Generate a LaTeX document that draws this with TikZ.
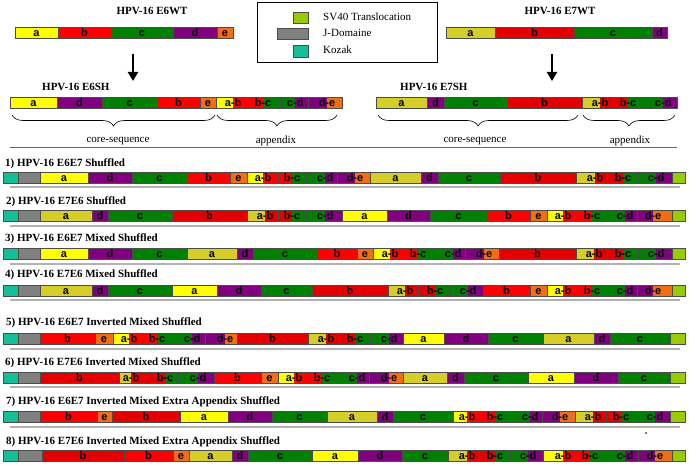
\documentclass[tikz,border=0pt]{standalone}
\usepackage{fontspec}
\setmainfont{Liberation Serif}
\newfontfamily\lsans{Liberation Sans}
\usetikzlibrary{arrows.meta,decorations.pathreplacing}
\definecolor{cY}{RGB}{255,255,0}
\definecolor{cH}{RGB}{214,206,40}
\definecolor{cR}{RGB}{255,0,0}
\definecolor{cRd}{RGB}{228,0,0}
\definecolor{cG}{RGB}{0,128,0}
\definecolor{cP}{RGB}{128,0,128}
\definecolor{cO}{RGB}{240,110,20}
\definecolor{cGy}{RGB}{128,128,128}
\definecolor{cT}{RGB}{20,190,150}
\definecolor{cLG}{RGB}{153,204,0}
\newcounter{nc}
\newcommand\RT{0}
\newcommand\RB{0}
\newcommand\setrow[2]{\renewcommand\RT{#1}\renewcommand\RB{#2}}
\newcommand\sg[4]{%
  \filldraw[blk,fill=#3] (#1,\RT) rectangle (#2,\RB);
  \stepcounter{nc}\node[lbl] (n\arabic{nc}) at ({(#1+#2)/2},\RB-1.4) {#4};}
\newcommand\bx[3]{\filldraw[blk,fill=#3] (#1,\RT) rectangle (#2,\RB);}
\newcommand\jn[6]{%
  \fill[#4] (#1,\RT) rectangle (#2,\RB);
  \fill[#5] (#2,\RT) rectangle (#3,\RB);
  \draw[blk] (#1,\RT) rectangle (#3,\RB);
  \stepcounter{nc}\node[lbl] (n\arabic{nc}) at (#2,\RB-1.4) {#6};}
\tikzset{
  blk/.style={draw=black!70, line width=0.5pt},
  lbl/.style={font=\lsans\bfseries\fontsize{11}{11}\selectfont, inner sep=0pt, anchor=base, text=black},
  ttl/.style={font=\bfseries\fontsize{11}{11}\selectfont, inner sep=0pt},
  rowttl/.style={font=\bfseries\fontsize{11}{11}\selectfont, inner sep=0pt, anchor=west},
  txt/.style={font=\fontsize{11}{11}\selectfont, inner sep=0pt},
  rule/.style={draw=black!30, line width=1.6pt},
  brc/.style={decorate, decoration={brace, amplitude=11pt, mirror}, line width=0.6pt},
  bigarrow/.style={-{Triangle[width=10pt,length=9pt]}, line width=2.8pt}
}
\begin{document}
\begin{tikzpicture}[x=1pt,y=-1pt]
\useasboundingbox (0,0) rectangle (689,465);
% ---- top titles
\node[ttl] (t6wt) at (152,11) {HPV-16 E6WT};
\node[ttl] (t7wt) at (560,11) {HPV-16 E7WT};
\node[ttl,anchor=west] (t6sh) at (42,87) {HPV-16 E6SH};
\node[ttl,anchor=west] (t7sh) at (400,87) {HPV-16 E7SH};
% ---- wild types
\setrow{27}{38}
\sg{15}{58}{cY}{a}\sg{58}{111}{cR}{b}\sg{111}{173}{cG}{c}\sg{173}{217}{cP}{d}\sg{217}{233}{cO}{e}
\sg{446}{495}{cH}{a}\sg{495}{574}{cRd}{b}\sg{574}{652}{cG}{c}\sg{652}{667}{cP}{d}
% ---- arrows
\coordinate (a6s) at (133,54); \coordinate (a6e) at (133,81);
\coordinate (a7s) at (552,54); \coordinate (a7e) at (552,81);
\draw[bigarrow] (a6s) -- (a6e);
\draw[bigarrow] (a7s) -- (a7e);
% ---- shuffled
\setrow{97}{108}
\sg{10}{57}{cY}{a}\sg{57}{102}{cP}{d}\sg{102}{157}{cG}{c}\sg{157}{200}{cR}{b}\sg{200}{216}{cO}{e}
\jn{216}{233}{245}{cY}{cR}{a-b}\jn{245}{263}{280}{cR}{cG}{b-c}\jn{280}{295}{308}{cG}{cP}{c-d}\jn{308}{327}{342}{cP}{cO}{d-e}
\sg{376}{427}{cH}{a}\sg{427}{444}{cP}{d}\sg{444}{507}{cG}{c}\sg{507}{582}{cRd}{b}
\jn{582}{600}{613}{cH}{cRd}{a-b}\jn{613}{628}{645}{cRd}{cG}{b-c}\jn{645}{663}{677}{cG}{cP}{c-d}
% ---- braces
\coordinate (b1s) at (12,115); \coordinate (b1e) at (215,115);
\coordinate (b2s) at (217,115); \coordinate (b2e) at (337,115);
\coordinate (b3s) at (378,115); \coordinate (b3e) at (578,115);
\coordinate (b4s) at (583,115); \coordinate (b4e) at (675,115);
\draw[brc] (b1s) -- (b1e);
\draw[brc] (b2s) -- (b2e);
\draw[brc] (b3s) -- (b3e);
\draw[brc] (b4s) -- (b4e);
\node[txt] (cs1) at (118,141) {core-sequence};
\node[txt] (ap1) at (276,141) {appendix};
\node[txt] (cs2) at (475,141) {core-sequence};
\node[txt] (ap2) at (630,141) {appendix};
% ---- legend
\draw[line width=1pt] (257,3) rectangle (437,63);
\filldraw[blk,fill=cLG] (293,12) rectangle (308,23);
\filldraw[blk,fill=cGy] (277,28) rectangle (308,39);
\filldraw[blk,fill=cT] (293,45) rectangle (308,57);
\node[txt,anchor=west] (l1) at (323,17) {SV40 Translocation};
\node[txt,anchor=west] (l2) at (323,33) {J-Domaine};
\node[txt,anchor=west] (l3) at (323,50) {Kozak};
% ---- rules
\draw[draw=black!60, line width=1pt] (10,148) -- (677,148);
\foreach \yy in {187,226,264,300,349,387,427} \draw[rule] (10,\yy) -- (680,\yy);
% ---- row titles
\node[rowttl] (r1) at (5,164) {1) HPV-16 E6E7 Shuffled};
\node[rowttl] (r2) at (6,202) {2) HPV-16 E7E6 Shuffled};
\node[rowttl] (r3) at (5,239) {3) HPV-16 E6E7 Mixed Shuffled};
\node[rowttl] (r4) at (5,275) {4) HPV-16 E7E6 Mixed Shuffled};
\node[rowttl] (r5) at (6,323) {5) HPV-16 E6E7 Inverted Mixed Shuffled};
\node[rowttl] (r6) at (5,363) {6) HPV-16 E7E6 Inverted Mixed Shuffled};
\node[rowttl] (r7) at (6,402) {7) HPV-16 E6E7 Inverted Mixed Extra Appendix Shuffled};
\node[rowttl] (r8) at (6,442) {8) HPV-16 E7E6 Inverted Mixed Extra Appendix Shuffled};
% ---- row 1
\setrow{172}{183}
\bx{3}{18}{cT}\bx{18}{40}{cGy}
\sg{40}{88}{cY}{a}\sg{88}{132}{cP}{d}\sg{132}{187}{cG}{c}\sg{187}{230}{cR}{b}\sg{230}{247}{cO}{e}
\jn{247}{263}{278}{cY}{cR}{a-b}\jn{278}{292}{306}{cR}{cG}{b-c}\jn{306}{325}{337}{cG}{cP}{c-d}\jn{337}{355}{370}{cP}{cO}{d-e}
\sg{370}{421}{cH}{a}\sg{421}{438}{cP}{d}\sg{438}{500}{cG}{c}\sg{500}{576}{cRd}{b}
\jn{576}{595}{607}{cH}{cRd}{a-b}\jn{607}{623}{638}{cRd}{cG}{b-c}\jn{638}{656}{672}{cG}{cP}{c-d}
\bx{672}{685}{cLG}
% ---- row 2
\setrow{210}{221}
\bx{3}{18}{cT}\bx{18}{40}{cGy}
\sg{40}{92}{cH}{a}\sg{92}{108}{cP}{d}\sg{108}{172}{cG}{c}\sg{172}{247}{cRd}{b}
\jn{247}{265}{278}{cH}{cRd}{a-b}\jn{278}{292}{306}{cRd}{cG}{b-c}\jn{306}{325}{342}{cG}{cP}{c-d}
\sg{342}{387}{cY}{a}\sg{387}{430}{cP}{d}\sg{430}{487}{cG}{c}\sg{487}{530}{cR}{b}\sg{530}{547}{cO}{e}
\jn{547}{563}{575}{cY}{cR}{a-b}\jn{575}{592}{607}{cR}{cG}{b-c}\jn{607}{625}{637}{cG}{cP}{c-d}\jn{637}{653}{672}{cP}{cO}{d-e}
\bx{672}{685}{cLG}
% ---- row 3
\setrow{248}{259}
\bx{3}{18}{cT}\bx{18}{40}{cGy}
\sg{40}{88}{cY}{a}\sg{88}{132}{cP}{d}\sg{132}{187}{cG}{c}
\sg{187}{237}{cH}{a}\sg{237}{253}{cP}{d}\sg{253}{317}{cG}{c}
\sg{317}{357}{cR}{b}\sg{357}{373}{cO}{e}
\jn{373}{390}{403}{cY}{cR}{a-b}\jn{403}{418}{435}{cR}{cG}{b-c}\jn{435}{453}{465}{cG}{cP}{c-d}\jn{465}{484}{499}{cP}{cO}{d-e}
\sg{499}{576}{cRd}{b}
\jn{576}{594}{607}{cH}{cRd}{a-b}\jn{607}{623}{638}{cRd}{cG}{b-c}\jn{638}{656}{672}{cG}{cP}{c-d}
\bx{672}{685}{cLG}
% ---- row 4
\setrow{285}{296}
\bx{3}{18}{cT}\bx{18}{40}{cGy}
\sg{40}{92}{cH}{a}\sg{92}{108}{cP}{d}\sg{108}{172}{cG}{c}
\sg{172}{217}{cY}{a}\sg{217}{261}{cP}{d}\sg{261}{312}{cG}{c}
\sg{312}{388}{cRd}{b}
\jn{388}{405}{418}{cH}{cRd}{a-b}\jn{418}{435}{450}{cRd}{cG}{b-c}\jn{450}{468}{483}{cG}{cP}{c-d}
\sg{483}{530}{cR}{b}\sg{530}{547}{cO}{e}
\jn{547}{563}{575}{cY}{cR}{a-b}\jn{575}{592}{607}{cR}{cG}{b-c}\jn{607}{625}{637}{cG}{cP}{c-d}\jn{637}{653}{672}{cP}{cO}{d-e}
\bx{672}{685}{cLG}
% ---- row 5
\setrow{333}{344}
\bx{3}{18}{cT}\bx{18}{40}{cGy}
\sg{40}{95}{cR}{b}\sg{95}{113}{cO}{e}
\jn{113}{129}{143}{cY}{cR}{a-b}\jn{143}{157}{173}{cR}{cG}{b-c}\jn{173}{192}{205}{cG}{cP}{c-d}\jn{205}{225}{237}{cP}{cO}{d-e}
\sg{237}{308}{cRd}{b}
\jn{308}{326}{339}{cH}{cRd}{a-b}\jn{339}{355}{370}{cRd}{cG}{b-c}\jn{370}{389}{403}{cG}{cP}{c-d}
\sg{403}{444}{cY}{a}\sg{444}{488}{cP}{d}\sg{488}{543}{cG}{c}
\sg{543}{594}{cH}{a}\sg{594}{610}{cP}{d}\sg{610}{670}{cG}{c}
\bx{670}{685}{cLG}
% ---- row 6
\setrow{372}{383}
\bx{3}{18}{cT}\bx{18}{40}{cGy}
\sg{40}{119}{cRd}{b}
\jn{119}{131}{145}{cH}{cRd}{a-b}\jn{145}{165}{178}{cRd}{cG}{b-c}\jn{178}{198}{214}{cG}{cP}{c-d}
\sg{214}{261}{cR}{b}\sg{261}{278}{cO}{e}
\jn{278}{294}{307}{cY}{cR}{a-b}\jn{307}{322}{337}{cR}{cG}{b-c}\jn{337}{357}{369}{cG}{cP}{c-d}\jn{369}{389}{403}{cP}{cO}{d-e}
\sg{403}{447}{cH}{a}\sg{447}{464}{cP}{d}\sg{464}{528}{cG}{c}
\sg{528}{574}{cY}{a}\sg{574}{618}{cP}{d}\sg{618}{670}{cG}{c}
\bx{670}{685}{cLG}
% ---- row 7
\setrow{411}{422}
\bx{3}{18}{cT}\bx{18}{40}{cGy}
\sg{40}{97}{cR}{b}\sg{97}{112}{cO}{e}\sg{112}{180}{cRd}{b}
\sg{180}{228}{cY}{a}\sg{228}{272}{cP}{d}\sg{272}{327}{cG}{c}
\sg{327}{377}{cH}{a}\sg{377}{393}{cP}{d}\sg{393}{453}{cG}{c}
\jn{453}{467}{479}{cY}{cR}{a-b}\jn{479}{495}{511}{cR}{cG}{b-c}\jn{511}{530}{542}{cG}{cP}{c-d}\jn{542}{560}{575}{cP}{cO}{d-e}
\jn{575}{593}{606}{cH}{cRd}{a-b}\jn{606}{621}{637}{cRd}{cG}{b-c}\jn{637}{655}{670}{cG}{cP}{c-d}
\bx{670}{685}{cLG}
\fill[black] (646,433) circle (0.9);
% ---- row 8
\setrow{450}{461}
\bx{3}{18}{cT}\bx{18}{42}{cGy}
\sg{42}{124}{cRd}{b}\sg{124}{173}{cR}{b}\sg{173}{189}{cO}{e}
\sg{189}{232}{cH}{a}\sg{232}{248}{cP}{d}\sg{248}{312}{cG}{c}
\sg{312}{358}{cY}{a}\sg{358}{402}{cP}{d}\sg{402}{448}{cG}{c}
\jn{448}{467}{479}{cH}{cRd}{a-b}\jn{479}{495}{510}{cRd}{cG}{b-c}\jn{510}{528}{543}{cG}{cP}{c-d}
\jn{543}{563}{573}{cY}{cR}{a-b}\jn{573}{590}{607}{cR}{cG}{b-c}\jn{607}{625}{638}{cG}{cP}{c-d}\jn{638}{655}{672}{cP}{cO}{d-e}
\bx{672}{685}{cLG}
\end{tikzpicture}
\end{document}
